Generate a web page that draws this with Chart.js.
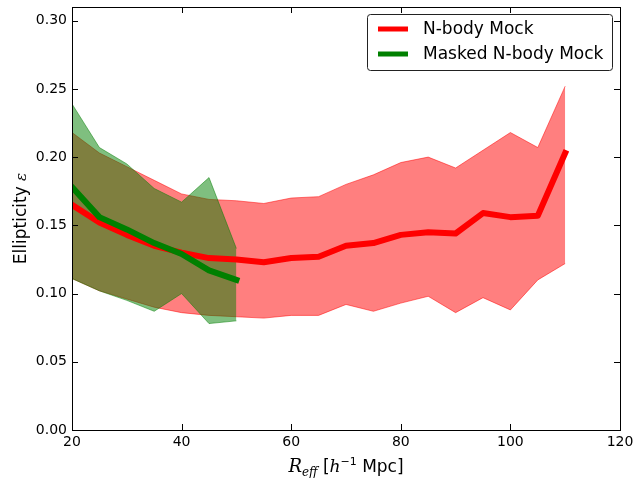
<!DOCTYPE html>
<html>
<head>
<meta charset="utf-8">
<script src="https://cdn.jsdelivr.net/npm/chart.js@4.4.0/dist/chart.umd.min.js"></script>
<style>
  body { margin: 0; background: #fff; }
  canvas { display: block; }
</style>
</head>
<body>
<canvas id="ellipChart" width="643" height="478"></canvas>
<script>
// radius bins
const rEff = [20, 25, 30, 35, 40, 45, 50, 55, 60, 65, 70, 75, 80, 85, 90, 95, 100, 105, 110];
const nbodyMean  = [0.165, 0.152, 0.143, 0.135, 0.130, 0.126, 0.125, 0.123, 0.126, 0.127, 0.135, 0.137, 0.143, 0.145, 0.144, 0.159, 0.156, 0.157, 0.203];
const nbodyUpper = [0.218, 0.203, 0.193, 0.183, 0.173, 0.169, 0.168, 0.166, 0.170, 0.171, 0.180, 0.187, 0.196, 0.200, 0.192, 0.205, 0.218, 0.207, 0.252];
const nbodyLower = [0.111, 0.102, 0.096, 0.090, 0.086, 0.084, 0.083, 0.082, 0.084, 0.084, 0.092, 0.087, 0.093, 0.098, 0.086, 0.097, 0.088, 0.110, 0.122];

const rEffMasked   = [20, 25, 30, 35, 40, 45, 50];
const maskedMean   = [0.178, 0.156, 0.147, 0.137, 0.129, 0.117, 0.110];
const maskedUpper  = [0.239, 0.207, 0.195, 0.177, 0.167, 0.185, 0.133];
const maskedLower  = [0.111, 0.102, 0.095, 0.087, 0.100, 0.078, 0.080];

const xTicks = [20, 40, 60, 80, 100, 120];
const yTicks = [0.00, 0.05, 0.10, 0.15, 0.20, 0.25, 0.30];

const legendItems = [
  { label: 'N-body Mock', color: '#ff0000' },
  { label: 'Masked N-body Mock', color: '#008000' }
];

const pts = (xs, ys) => xs.map((x, i) => ({ x: x, y: ys[i] }));

const band = (xs, ys, color, order, fill) => ({
  data: pts(xs, ys),
  borderColor: color,
  borderWidth: 1,
  backgroundColor: color,
  pointRadius: 0,
  tension: 0,
  order: order,
  fill: fill
});

// frame, inward ticks, legend and axis titles like matplotlib
const decorPlugin = {
  id: 'decor',
  afterDraw(chart) {
    const ctx = chart.ctx;
    const a = chart.chartArea;
    const xs = chart.scales.x, ys = chart.scales.y;
    ctx.save();
    ctx.strokeStyle = '#000';
    ctx.lineWidth = 1;
    ctx.strokeRect(Math.round(a.left) + 0.5, Math.round(a.top) + 0.5,
                   Math.round(a.right - a.left), Math.round(a.bottom - a.top));
    const tl = 6;
    ctx.beginPath();
    xTicks.forEach(v => {
      const px = Math.round(xs.getPixelForValue(v)) + 0.5;
      ctx.moveTo(px, a.bottom); ctx.lineTo(px, a.bottom - tl);
      ctx.moveTo(px, a.top); ctx.lineTo(px, a.top + tl);
    });
    yTicks.forEach(v => {
      const py = Math.round(ys.getPixelForValue(v)) + 0.5;
      ctx.moveTo(a.left, py); ctx.lineTo(a.left + tl, py);
      ctx.moveTo(a.right, py); ctx.lineTo(a.right - tl, py);
    });
    ctx.stroke();

    // legend
    const lx = 367, ly = 14, lw = 245, lh = 56;
    ctx.fillStyle = '#fff';
    ctx.beginPath();
    ctx.roundRect(lx + 0.5, ly + 0.5, lw, lh, 3);
    ctx.fill();
    ctx.strokeStyle = '#222';
    ctx.stroke();
    ctx.font = '17px "DejaVu Sans"';
    ctx.textBaseline = 'middle';
    legendItems.forEach((it, i) => {
      const y = ly + 15 + i * 25;
      ctx.strokeStyle = it.color;
      ctx.lineWidth = 5;
      ctx.beginPath();
      ctx.moveTo(378, y); ctx.lineTo(408, y);
      ctx.stroke();
      ctx.fillStyle = '#000';
      ctx.fillText(it.label, 423, y + 1);
    });

    // y title
    ctx.save();
    ctx.translate(20, (a.top + a.bottom) / 2);
    ctx.rotate(-Math.PI / 2);
    ctx.fillStyle = '#000';
    ctx.textBaseline = 'alphabetic';
    ctx.font = '17px "DejaVu Sans"';
    const w1 = ctx.measureText('Ellipticity ').width;
    ctx.font = 'italic 15px "DejaVu Serif"';
    const w2 = ctx.measureText('ε').width;
    let sx = -(w1 + w2) / 2;
    ctx.font = '17px "DejaVu Sans"';
    ctx.fillText('Ellipticity ', sx, 6);
    ctx.font = 'italic 15px "DejaVu Serif"';
    ctx.fillText('ε', sx + w1, 6);
    ctx.restore();

    // x title
    const parts = [
      { t: 'R', f: 'italic 18px "DejaVu Serif"', dy: 0 },
      { t: 'eff', f: 'italic 12px "DejaVu Serif"', dy: 4 },
      { t: ' [', f: '17px "DejaVu Sans"', dy: 0 },
      { t: 'h', f: 'italic 17px "DejaVu Serif"', dy: 0 },
      { t: '−1', f: '11px "DejaVu Sans"', dy: -7 },
      { t: ' Mpc]', f: '17px "DejaVu Sans"', dy: 0 }
    ];
    let total = 0;
    parts.forEach(p => { ctx.font = p.f; p.w = ctx.measureText(p.t).width; total += p.w; });
    let cx = (a.left + a.right) / 2 - total / 2;
    ctx.fillStyle = '#000';
    ctx.textBaseline = 'alphabetic';
    parts.forEach(p => {
      ctx.font = p.f;
      ctx.fillText(p.t, cx, 472 + p.dy);
      cx += p.w;
    });
    ctx.restore();
  }
};

new Chart(document.getElementById('ellipChart'), {
  type: 'line',
  data: {
    datasets: [
      band(rEff, nbodyUpper, 'rgba(255,0,0,0.5)', 10, false),
      band(rEff, nbodyLower, 'rgba(255,0,0,0.5)', 9, 0),
      band(rEffMasked, maskedUpper, 'rgba(0,128,0,0.5)', 8, false),
      band(rEffMasked, maskedLower, 'rgba(0,128,0,0.5)', 7, 2),
      {
        data: pts(rEff, nbodyMean),
        borderColor: '#ff0000',
        borderWidth: 6,
        borderJoinStyle: 'round',
        borderCapStyle: 'square',
        pointRadius: 0,
        tension: 0,
        fill: false,
        order: 2
      },
      {
        data: pts(rEffMasked, maskedMean),
        borderColor: '#008000',
        borderWidth: 6,
        borderJoinStyle: 'round',
        borderCapStyle: 'square',
        pointRadius: 0,
        tension: 0,
        fill: false,
        order: 1
      }
    ]
  },
  options: {
    responsive: false,
    animation: false,
    devicePixelRatio: 1,
    layout: { padding: { top: 7, right: 23, left: 0, bottom: 0 } },
    plugins: {
      legend: { display: false },
      tooltip: { enabled: false }
    },
    scales: {
      x: {
        type: 'linear',
        min: 20,
        max: 120,
        grid: { display: false, drawTicks: false },
        border: { display: false },
        afterFit: (s) => { s.height = 48; s.paddingRight = 0; s.paddingLeft = 0; },
        afterBuildTicks: (s) => { s.ticks = xTicks.map(v => ({ value: v })); },
        ticks: {
          color: '#000',
          padding: 4,
          maxRotation: 0,
          autoSkip: false,
          font: { family: 'DejaVu Sans', size: 14 }
        }
      },
      y: {
        min: 0,
        max: 0.31,
        grid: { display: false, drawTicks: false },
        border: { display: false },
        afterFit: (s) => { s.width = 72; s.paddingTop = 0; s.paddingBottom = 0; },
        afterBuildTicks: (s) => { s.ticks = yTicks.map(v => ({ value: v })); },
        ticks: {
          color: '#000',
          padding: 5,
          autoSkip: false,
          font: { family: 'DejaVu Sans', size: 14 },
          callback: (v) => Number(v).toFixed(2)
        }
      }
    }
  },
  plugins: [decorPlugin]
});
</script>
</body>
</html>
